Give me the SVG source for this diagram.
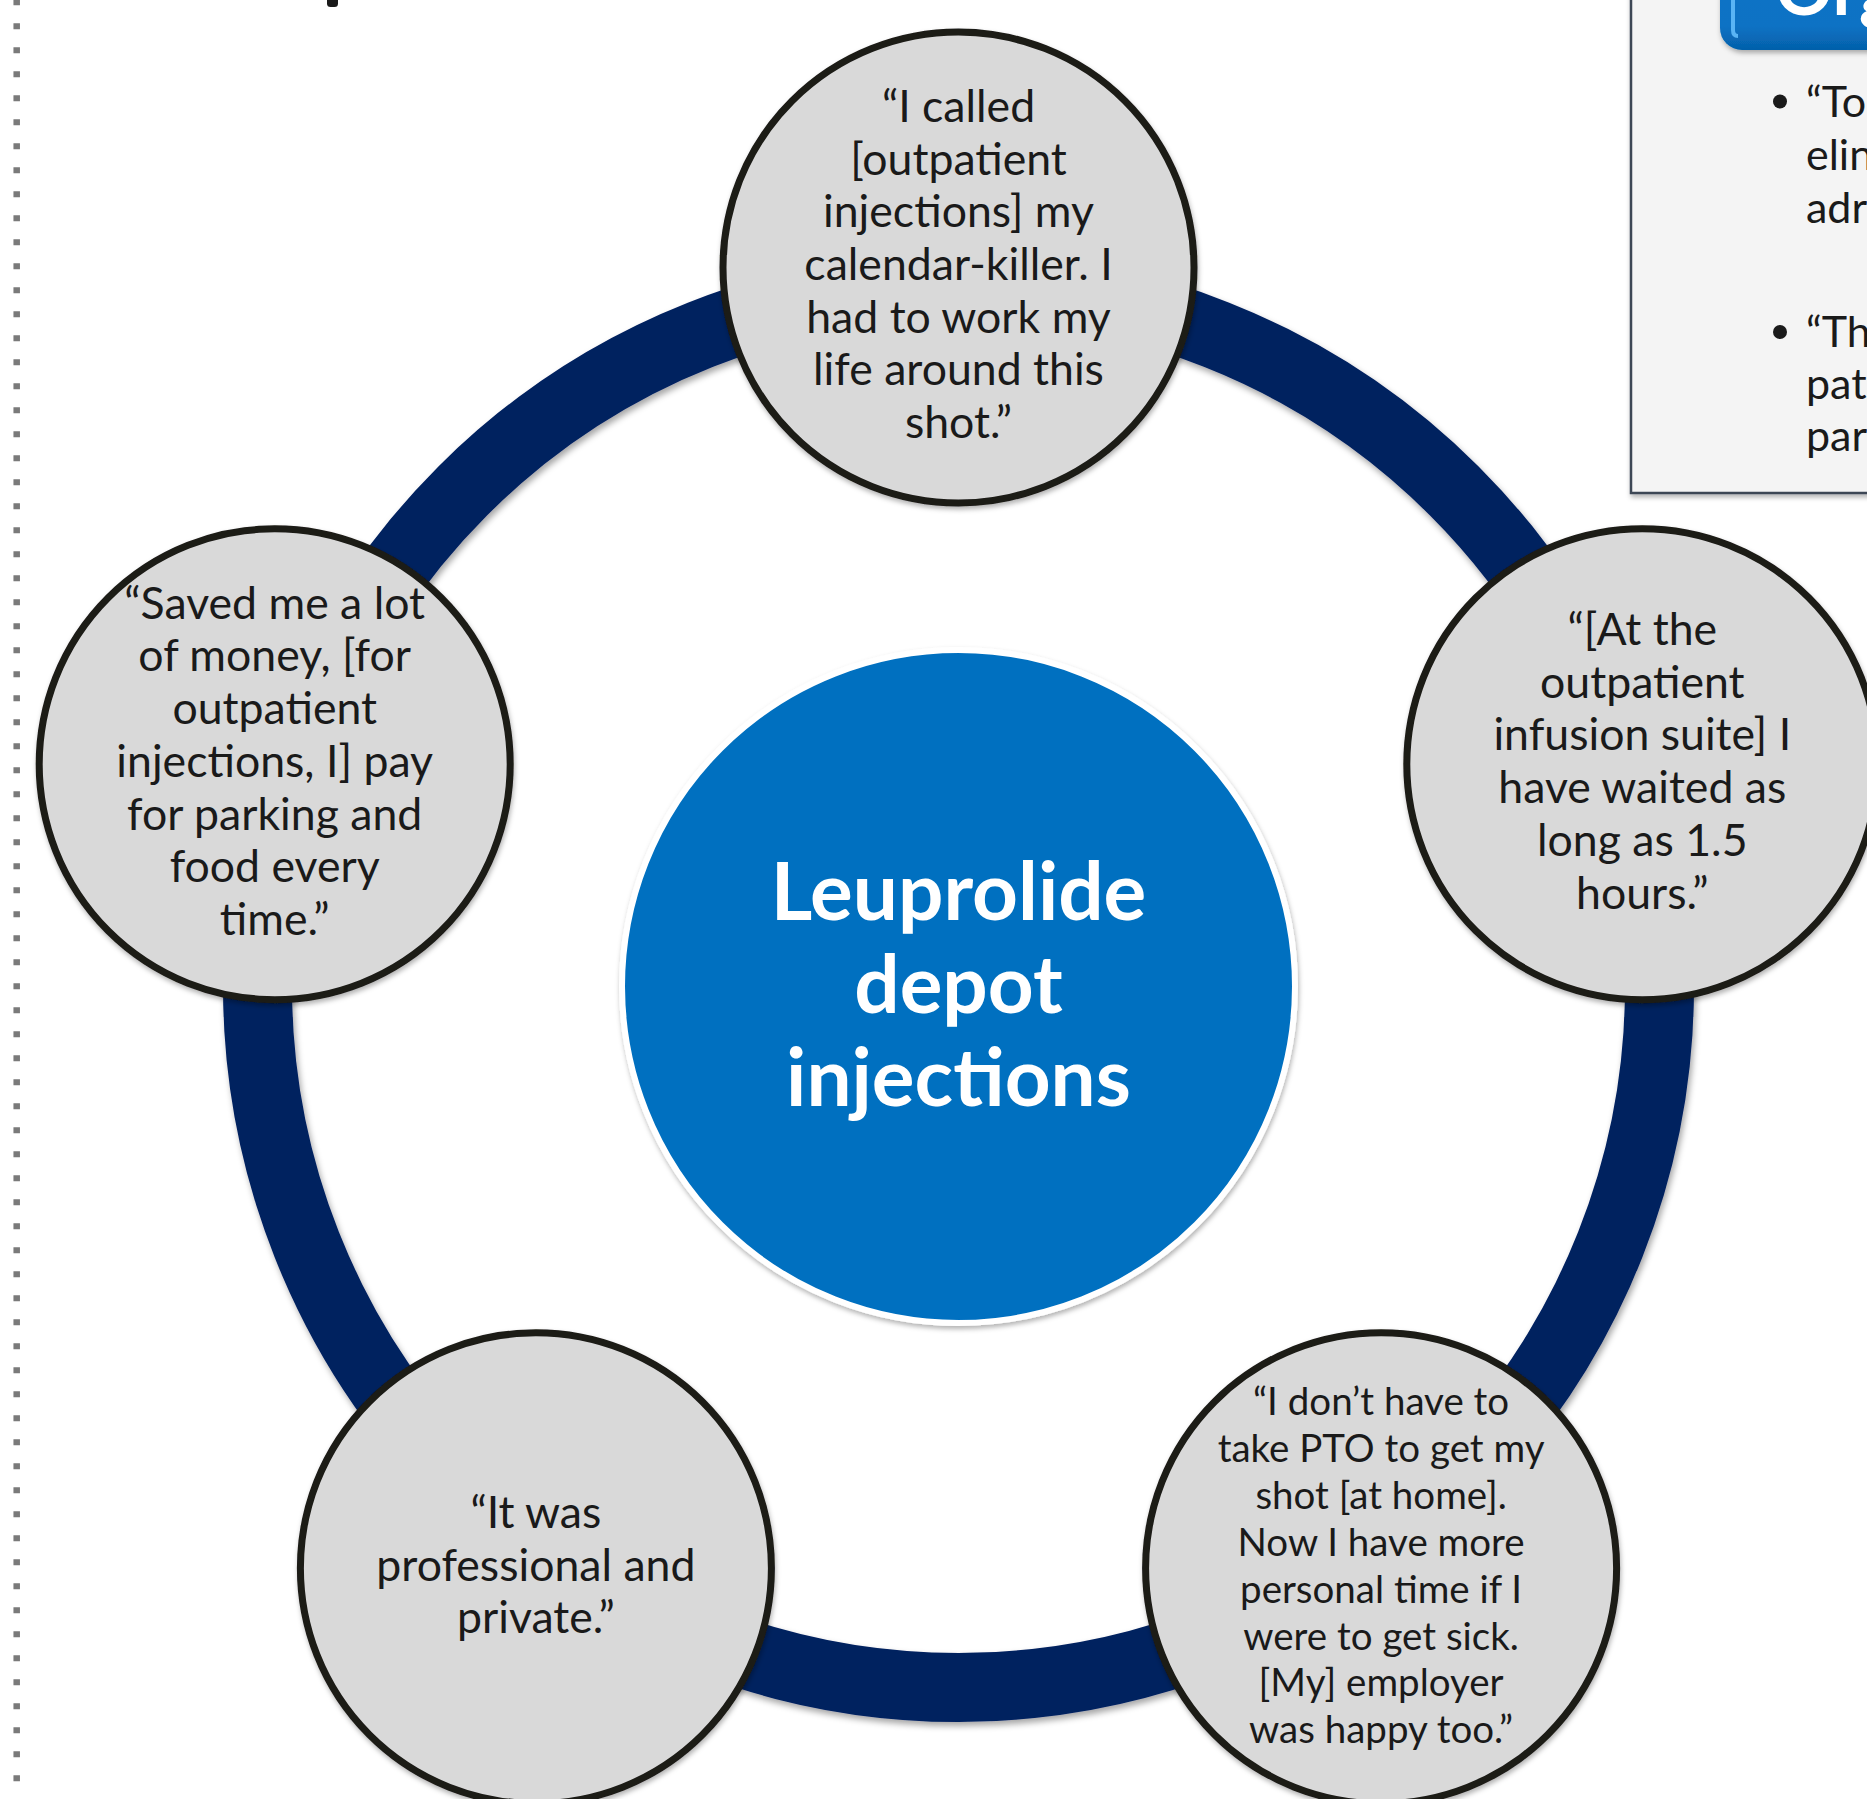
<svg xmlns="http://www.w3.org/2000/svg" width="1867" height="1799" viewBox="0 0 1867 1799">
  <defs>
    <filter id="sh" x="-10%" y="-10%" width="125%" height="125%">
      <feDropShadow dx="2" dy="4" stdDeviation="3" flood-color="#000" flood-opacity="0.35"/>
    </filter>
    <filter id="shs" x="-10%" y="-10%" width="125%" height="125%">
      <feDropShadow dx="1" dy="3" stdDeviation="2.5" flood-color="#000" flood-opacity="0.3"/>
    </filter>
    <linearGradient id="btn" x1="0" y1="0" x2="0" y2="1">
      <stop offset="0" stop-color="#0a74c8"/>
      <stop offset="0.8" stop-color="#0a72c4"/>
      <stop offset="1" stop-color="#0560aa"/>
    </linearGradient>
    <style>
      .q { font-family: Lato, "Open Sans", "Liberation Sans", sans-serif; font-size: 44.6px; fill: #1a1a1a; text-anchor: middle; }
      .qs { font-size: 38.5px; }
      .node { fill: #d9d9d9; stroke: #1b1a16; stroke-width: 7; filter: url(#shs); }
      .hub { font-family: Lato, "Open Sans", "Liberation Sans", sans-serif; font-weight: bold; font-size: 80px; fill: #ffffff; text-anchor: middle; }
      .side { font-family: Lato, "Open Sans", "Liberation Sans", sans-serif; font-size: 43px; fill: #1a1a1a; }
    </style>
  </defs>

  <rect width="1867" height="1799" fill="#ffffff"/>

  <!-- dotted divider -->
  <line x1="16.7" y1="-0.7" x2="16.7" y2="1799" stroke="#7a7a7a" stroke-width="6.5" stroke-dasharray="6 18"/>

  <!-- fragment of cut-off title glyph -->
  <rect x="327" y="-6" width="11" height="13" rx="3.5" fill="#1a1a1a"/>

  <!-- right side panel -->
  <g id="side-panel">
    <rect x="1631" y="-20" width="260" height="513" fill="#f4f4f4" stroke="#3d4655" stroke-width="2.5" filter="url(#shs)"/>
    <rect x="1720" y="-70" width="200" height="120" rx="22" fill="url(#btn)" filter="url(#shs)"/>
    <path d="M1733 -10 L1733 30 Q1733 36 1738 36" fill="none" stroke="#59b4f5" stroke-width="4"/>
    <text x="1775" y="15" font-family="Lato, 'Open Sans', 'Liberation Sans', sans-serif" font-weight="bold" font-size="72" fill="#ffffff">Org</text>
    <circle cx="1780" cy="101.5" r="7" fill="#1a1a1a"/>
    <circle cx="1780" cy="332" r="7" fill="#1a1a1a"/>
    <text class="side" x="1806" y="117">“To</text>
    <text class="side" x="1806" y="170">elin</text>
    <text class="side" x="1806" y="222.5">adr</text>
    <text class="side" x="1806" y="347">“Th</text>
    <text class="side" x="1806" y="399">pat</text>
    <text class="side" x="1806" y="451">par</text>
  </g>

  <!-- cycle ring -->
  <g id="connectors">
    <circle cx="958.5" cy="986.5" r="701" fill="none" stroke="#00205f" stroke-width="69" filter="url(#sh)"/>
  </g>

  <!-- hub -->
  <g id="hub">
    <circle cx="958.5" cy="986.5" r="336.5" fill="#0070c0" stroke="#ffffff" stroke-width="6" filter="url(#shs)"/>
    <text class="hub" x="958.5" y="920">Leuprolide</text>
    <text class="hub" x="958.5" y="1013">depot</text>
    <text class="hub" x="958.5" y="1106">injections</text>
  </g>

  <g id="node-top">
    <circle class="node" cx="958.5" cy="267.5" r="235.5"/>
    <text class="q" x="958.5" y="121.9">“I called</text>
    <text class="q" x="958.5" y="174.6">[outpatient</text>
    <text class="q" x="958.5" y="227.3">injections] my</text>
    <text class="q" x="958.5" y="280">calendar-killer. I</text>
    <text class="q" x="958.5" y="332.7">had to work my</text>
    <text class="q" x="958.5" y="385.4">life around this</text>
    <text class="q" x="958.5" y="438.1">shot.”</text>
  </g>

  <g id="node-right">
    <circle class="node" cx="1642.3" cy="764.3" r="235.5"/>
    <text class="q" x="1642.3" y="645">“[At the</text>
    <text class="q" x="1642.3" y="697.7">outpatient</text>
    <text class="q" x="1642.3" y="750.4">infusion suite] I</text>
    <text class="q" x="1642.3" y="803.1">have waited as</text>
    <text class="q" x="1642.3" y="855.8">long as 1.5</text>
    <text class="q" x="1642.3" y="908.5">hours.”</text>
  </g>

  <g id="node-bottom-right">
    <circle class="node" cx="1381.1" cy="1568.2" r="235.5"/>
    <text class="q qs" x="1381.1" y="1415">“I don’t have to</text>
    <text class="q qs" x="1381.1" y="1462">take PTO to get my</text>
    <text class="q qs" x="1381.1" y="1508.8">shot [at home].</text>
    <text class="q qs" x="1381.1" y="1555.7">Now I have more</text>
    <text class="q qs" x="1381.1" y="1602.6">personal time if I</text>
    <text class="q qs" x="1381.1" y="1649.5">were to get sick.</text>
    <text class="q qs" x="1381.1" y="1696.4">[My] employer</text>
    <text class="q qs" x="1381.1" y="1743.3">was happy too.”</text>
  </g>

  <g id="node-bottom-left">
    <circle class="node" cx="535.9" cy="1568.2" r="235.5"/>
    <text class="q" x="535.9" y="1528">“It was</text>
    <text class="q" x="535.9" y="1580.7">professional and</text>
    <text class="q" x="535.9" y="1633.4">private.”</text>
  </g>

  <g id="node-left">
    <circle class="node" cx="274.7" cy="764.3" r="235.5"/>
    <text class="q" x="274.7" y="618.7">“Saved me a lot</text>
    <text class="q" x="274.7" y="671.4">of money, [for</text>
    <text class="q" x="274.7" y="724.1">outpatient</text>
    <text class="q" x="274.7" y="776.8">injections, I] pay</text>
    <text class="q" x="274.7" y="829.5">for parking and</text>
    <text class="q" x="274.7" y="882.2">food every</text>
    <text class="q" x="274.7" y="934.9">time.”</text>
  </g>
</svg>
